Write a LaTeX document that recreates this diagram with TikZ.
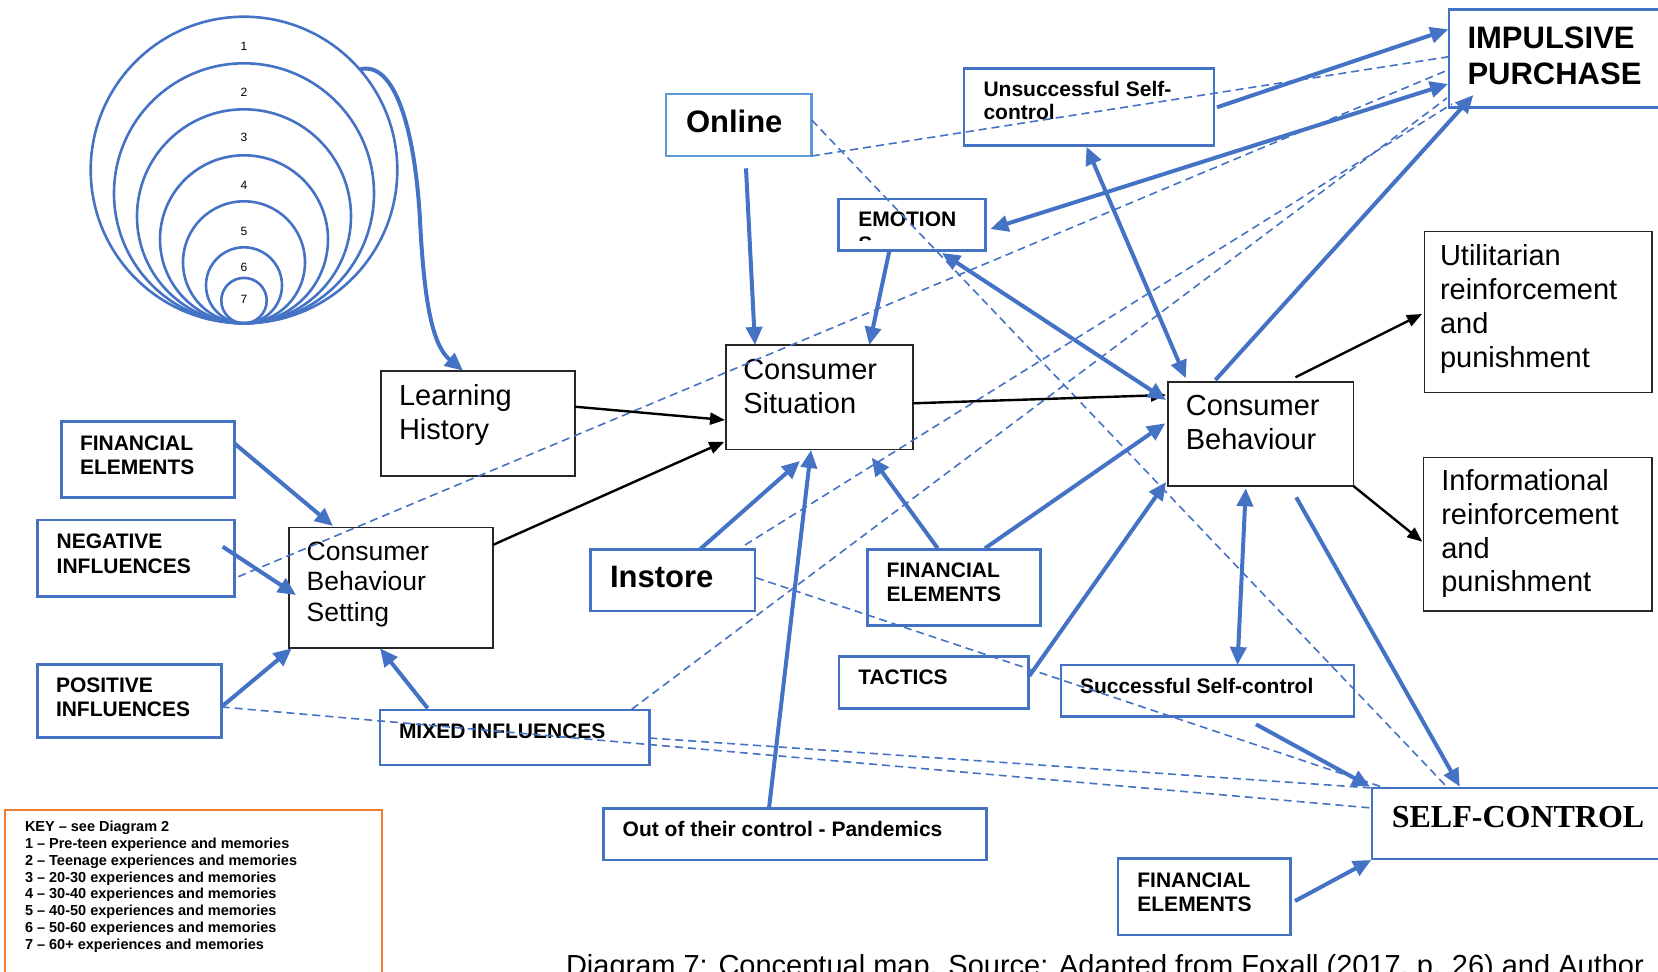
\documentclass[tikz,border=0pt]{standalone}
\usepackage{fontspec}
\setmainfont{Liberation Sans}
\newfontfamily\serifbold{Liberation Serif}
\usetikzlibrary{arrows.meta,calc,fit}
\definecolor{mblue}{HTML}{4472C4}
\definecolor{lblue}{HTML}{5B9BD5}
\definecolor{korange}{HTML}{ED7D31}

\begin{document}
\begin{tikzpicture}[x=1pt,y=-1pt,
  bbox/.style={draw=mblue, line width=2.6pt, inner sep=0pt, outer sep=0pt},
  lbox/.style={draw=lblue, line width=2.6pt, inner sep=0pt, outer sep=0pt},
  kbox/.style={draw=black!85, line width=1.6pt, inner sep=0pt, outer sep=0pt},
  ring/.style={circle, draw=mblue, line width=2.6pt, inner sep=0pt, outer sep=0pt},
  % multi-line texts are placed by the baseline of their last line
  txt/.style={inner sep=0pt, outer sep=0pt, anchor=base west, align=left},
  bigt/.style={txt, font=\fontsize{29}{34}\selectfont},
  midt/.style={txt, font=\fontsize{26.5}{30.5}\selectfont},
  lblt/.style={txt, font=\fontsize{21}{24}\selectfont\bfseries},
  headt/.style={txt, font=\fontsize{31}{36}\selectfont\bfseries},
  numt/.style={inner sep=0pt, font=\fontsize{12}{14}\selectfont},
  barrow/.style={draw=mblue, line width=4pt, -{Triangle[length=18pt,width=16pt]}},
  bdouble/.style={draw=mblue, line width=4pt, {Triangle[length=18pt,width=16pt]}-{Triangle[length=18pt,width=16pt]}},
  karrow/.style={draw=black, line width=2.4pt, -{Triangle[length=15pt,width=12pt]}},
  dline/.style={draw=mblue, line width=1.6pt, dash pattern=on 8pt off 5pt}
]
\useasboundingbox (0,0) rectangle (1658,972);

% nested memory rings, all touching at the bottom
\node[ring, minimum size=306.6pt] (c1) at (244,170) {};
\node[ring, minimum size=260pt] (c2) at (244,193.3) {};
\node[ring, minimum size=214pt] (c3) at (244,216.3) {};
\node[ring, minimum size=168pt] (c4) at (244,239.3) {};
\node[ring, minimum size=122pt] (c5) at (244,262.3) {};
\node[ring, minimum size=76pt] (c6) at (244,285.3) {};
\node[ring, minimum size=45.4pt] (c7) at (244,300.6) {};
\node[numt] (n1) at (244,46.7) {1};
\node[numt] (n2) at (244,92.7) {2};
\node[numt] (n3) at (244,137.7) {3};
\node[numt] (n4) at (244,185) {4};
\node[numt] (n5) at (244,231.7) {5};
\node[numt] (n6) at (244,267.7) {6};
\node[numt] (n7) at (244,299.3) {7};

% key
\node[draw=korange, line width=2pt, inner sep=0pt, outer sep=0pt, fit={(5,810) (382,995)}] (key) {};
\node[txt, font=\fontsize{14.5}{16.75}\selectfont\bfseries] (keyt) at (25,949)
  {KEY – see Diagram 2\\1 – Pre-teen experience and memories\\2 – Teenage experiences and memories\\3 – 20-30 experiences and memories\\4 – 30-40 experiences and memories\\5 – 40-50 experiences and memories\\6 – 50-60 experiences and memories\\7 – 60+ experiences and memories};

% boxes
\node[bbox, fit={(61.7,421.7) (234.3,497.7)}] (finl) {};
\node[bbox, fit={(37.3,520) (234.3,596.7)}] (neg) {};
\node[bbox, fit={(37.3,664.3) (221.7,737.7)}] (pos) {};
\node[kbox, fit={(288.7,527.3) (492.7,647.7)}] (cbs) {};
\node[kbox, fit={(381,370.7) (575,475.7)}] (lh) {};
\node[bbox, fit={(380,710) (649.3,765)}] (mix) {};
\node[lbox, fit={(666,94) (811.7,156)}] (online) {};
\node[kbox, fit={(725.7,345) (912.7,449.3)}] (cs) {};
\node[bbox, fit={(590.7,549.3) (755,611)}] (instore) {};
\node[bbox, fit={(603.3,808.3) (986.7,860)}] (ooc) {};
\node[bbox, fit={(838.7,199) (985.7,250.7)}] (emo) {};
\node[bbox, fit={(867.7,549.3) (1040.7,625.7)}] (finm) {};
\node[bbox, fit={(839,656.7) (1028.3,708.7)}] (tac) {};
\node[bbox, fit={(963.8,68.3) (1213.8,145.7)}] (uns) {};
\node[kbox, fit={(1168.1,381.7) (1353.4,486)}] (cb) {};
\node[bbox, fit={(1061,665) (1354,716.7)}] (ssc) {};
\node[bbox, fit={(1449,9.3) (1668,107.3)}] (imp) {};
\node[kbox, fit={(1424.4,231.6) (1651.7,392.3)}] (util) {};
\node[kbox, fit={(1423.5,457.3) (1652,610.7)}] (info) {};
\node[bbox, fit={(1372,787.8) (1668,859)}] (sc) {};
\node[bbox, fit={(1117.8,858.3) (1290.4,935)}] (finb) {};

% texts
\node[bigt] (t-lh) at (399,439) {Learning\\History};
\node[bigt] (t-cs) at (743.3,413.5) {Consumer\\Situation};
\node[bigt] (t-cb) at (1185.8,449.3) {Consumer\\Behaviour};
\node[bigt] (t-ut) at (1440,367.6) {Utilitarian\\reinforcement\\and\\punishment};
\node[bigt, font=\fontsize{29}{33.7}\selectfont] (t-in) at (1441.3,591.8) {Informational\\reinforcement\\and\\punishment};
\node[midt] (t-cbs) at (306.7,621) {Consumer\\Behaviour\\Setting};
\node[lblt] (t-finl) at (80,474) {FINANCIAL\\ELEMENTS};
\node[lblt, font=\fontsize{21}{25}\selectfont\bfseries] (t-neg) at (56.7,573.3) {NEGATIVE\\INFLUENCES};
\node[lblt] (t-pos) at (56,716.7) {POSITIVE\\INFLUENCES};
\node[lblt] (t-mix) at (399,738) {MIXED INFLUENCES};
\node[lblt] (t-finm) at (886.7,601.7) {FINANCIAL\\ELEMENTS};
\node[lblt] (t-tac) at (858.3,684) {TACTICS};
\node[lblt] (t-ooc) at (622.7,836.7) {Out of their control - Pandemics};
\node[lblt] (t-ssc) at (1080,693.3) {Successful Self-control};
\node[lblt, font=\fontsize{21}{23.3}\selectfont\bfseries] (t-finb) at (1137.4,911) {FINANCIAL\\ELEMENTS};
\node[lblt, font=\fontsize{21}{23}\selectfont\bfseries] (t-uns) at (983.5,119.7) {Unsuccessful Self-\\control};
\node[lblt] (t-emo) at (858.3,226.7) {EMOTION};
\begin{scope}
  \clip ($(emo.north west)+(0,0)$) rectangle ($(emo.south east)+(0,-10)$);
  \node[lblt] (t-emo2) at (858.3,251) {S};
\end{scope}
\node[headt] (t-online) at (686,132.7) {Online};
\node[headt] (t-instore) at (610,587.7) {Instore};
\node[headt] (t-imp) at (1467.5,84) {IMPULSIVE\\PURCHASE};
\node[txt, font=\fontsize{32}{36}\selectfont\serifbold\bfseries] (t-sc) at (1391.8,827.3) {SELF-CONTROL};
\node[bigt] (caption) at (566,975) {Diagram 7: Conceptual map. Source: Adapted from Foxall (2017, p. 26) and Author};

% dashed links
\draw[dline] ($(online.north west)+(145.7,26)$) -- ($(sc.north west)+(74,-1.8)$);
\draw[dline] ($(online.north west)+(145.7,62)$) -- ($(imp.north west)+(0,47.4)$);
\draw[dline] ($(neg.north west)+(201,56.7)$) -- ($(imp.north west)+(-1,60.7)$);
\draw[dline] ($(instore.north west)+(154.3,-4.3)$) -- ($(imp.north west)+(3,94.7)$);
\draw[dline] ($(mix.north west)+(251.7,-0.7)$) -- ($(imp.north west)+(-2,88.7)$);
\draw[dline] ($(instore.north west)+(165.3,28.4)$) -- ($(sc.north west)+(13,0.2)$);
\draw[dline] ($(pos.north west)+(184.4,42.7)$) -- ($(sc.north west)+(0,20.2)$);
\draw[dline] ($(mix.north west)+(269.3,28)$) -- ($(sc.north west)+(0,0.2)$);

% black links
\draw[karrow] ($(lh.north west)+(194,36)$) -- ($(cs.north west)+(-0.7,75)$);
\draw[karrow] ($(cbs.north west)+(204,17.7)$) -- ($(cs.north west)+(-1.4,96.7)$);
\draw[karrow] ($(cs.north west)+(187,58.3)$) -- ($(cb.north west)+(-2.1,13.3)$);
\draw[karrow] ($(cb.north west)+(127.3,-4.4)$) -- ($(util.north west)+(-2.4,82.4)$);
\draw[karrow] ($(cb.north west)+(185.3,104.3)$) -- ($(info.north west)+(-1.2,84.4)$);

% blue links
\draw[barrow] (c1.41) .. controls (395,60) and (415,130) .. (420,220)
  .. controls (424,300) and (432,345) .. ($(lh.north west)+(82,0)$);
\draw[barrow] ($(finl.north west)+(172.6,21.6)$) -- ($(cbs.north west)+(44.3,-1.3)$);
\draw[barrow] ($(neg.north west)+(185.4,26.7)$) -- ($(cbs.north west)+(7.3,67.7)$);
\draw[barrow] ($(pos.north west)+(184.4,42.4)$) -- ($(cbs.north west)+(3,121)$);
\draw[barrow] ($(mix.north west)+(47.7,-1.7)$) -- ($(cbs.north west)+(91.3,121)$);
\draw[barrow] ($(online.north west)+(80,74.3)$) -- ($(cs.north west)+(29.3,0)$);
\draw[barrow] ($(emo.north west)+(50.6,52)$) -- ($(cs.north west)+(143.6,0)$);
\draw[barrow] ($(instore.north west)+(109.3,0)$) -- ($(cs.north west)+(74.3,116)$);
\draw[barrow] ($(ooc.north west)+(165.7,0)$) -- ($(cs.north west)+(85.3,105)$);
\draw[barrow] ($(finm.north west)+(70,-1)$) -- ($(cs.north west)+(146,112.7)$);
\draw[barrow] ($(finm.north west)+(117.3,-1)$) -- ($(cb.north west)+(-2.8,41.6)$);
\draw[barrow] ($(tac.north west)+(190.3,19.3)$) -- ($(cb.north west)+(-2,100.3)$);
\draw[bdouble] ($(emo.north west)+(103.3,54)$) -- ($(cb.north west)+(-2,18.3)$);
\draw[bdouble] ($(uns.north west)+(122.7,78.4)$) -- ($(cb.north west)+(17.7,-3.4)$);
\draw[barrow] ($(cb.north west)+(47.3,-1.7)$) -- ($(imp.north west)+(24.4,85.7)$);
\draw[barrow] ($(uns.north west)+(253.2,39)$) -- ($(imp.north west)+(-0.8,20)$);
\draw[bdouble] ($(emo.north west)+(151.7,30)$) -- ($(imp.north west)+(-1,74.7)$);
\draw[bdouble] ($(cb.north west)+(77.7,106.6)$) -- ($(ssc.north west)+(176.5,0)$);
\draw[barrow] ($(cb.north west)+(128.1,115.6)$) -- ($(sc.north west)+(87.8,-1.1)$);
\draw[barrow] ($(ssc.north west)+(195,59.3)$) -- ($(sc.north west)+(-2,-1.1)$);
\draw[barrow] ($(finb.north west)+(177.2,42.7)$) -- ($(sc.north west)+(-0.8,72.2)$);
\end{tikzpicture}
\end{document}
